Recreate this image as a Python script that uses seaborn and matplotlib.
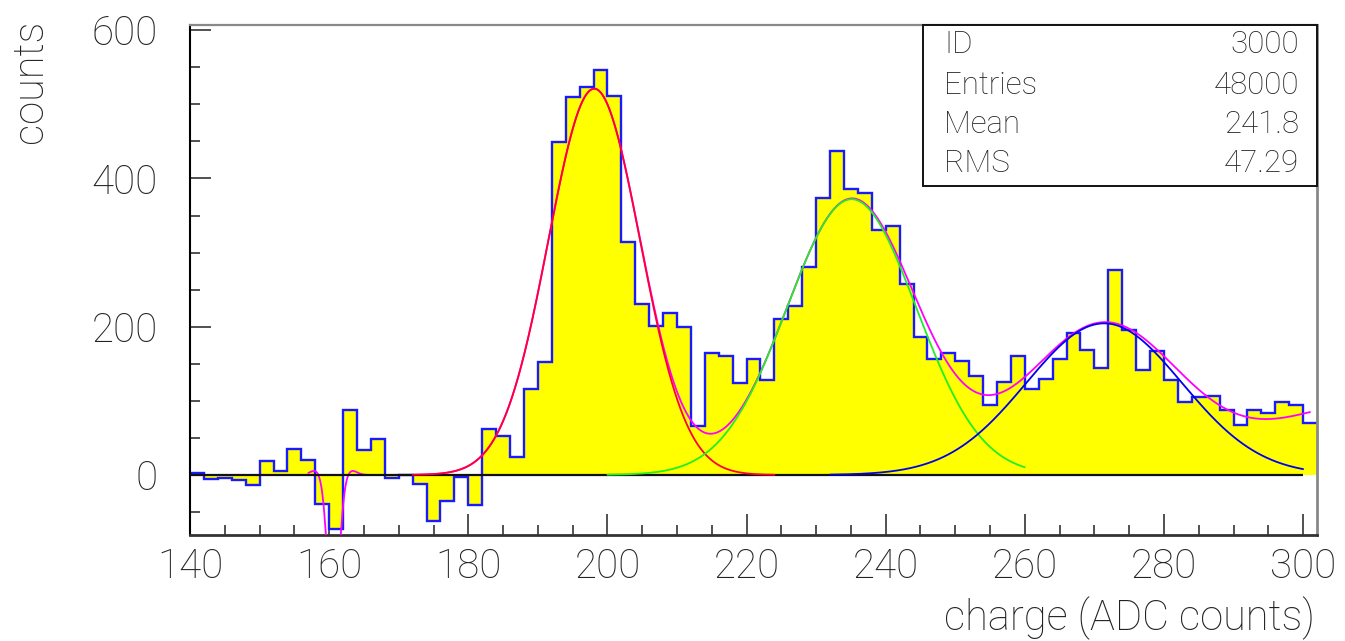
import numpy as np
import pandas as pd
import matplotlib
matplotlib.use("Agg")
import matplotlib.pyplot as plt
from matplotlib.patches import Rectangle
from matplotlib.ticker import MultipleLocator
import seaborn as sns

# ── DATA ──────────────────────────────────────────────────
bin_edges = list(range(140, 304, 2))        # 81 bins of width 2
counts = [2, -5, -4, -7, -14, 19, 5, 35, 20, -39,
          -73, 88, 33, 49, -4, 0, -12, -62, -35, -3,
          -41, 62, 53, 24, 116, 153, 449, 510, 524, 546,
          511, 314, 231, 201, 219, 200, 66, 164, 160, 124,
          157, 128, 211, 228, 281, 373, 437, 386, 381, 331,
          336, 258, 186, 157, 165, 154, 134, 95, 125, 161,
          116, 129, 157, 192, 169, 144, 276, 195, 141, 167,
          128, 98, 105, 107, 88, 68, 88, 84, 99, 95,
          70]

# gaussian fit components: amplitude, mean, sigma
red_fit = [521, 198.1, 6.6]
green_fit = [372, 235.1, 9.3]
blue_fit = [204.5, 271.4, 11.2]
tail_fit = [95, 309, 13]                    # 4th peak, only in the total
dip_fit = [-200, 160.6, 0.8]                # pedestal dip near 160
bump_fits = [[6, 158.0, 0.8], [6, 163.2, 0.8]]

red_range = [172, 224]
green_range = [200, 260]
blue_range = [232, 300]
total_range = [157, 301]

stats_names = ["ID", "Entries", "Mean", "RMS"]
stats_values = ["3000", "48000", "241.8", "47.29"]


def gauss(x, p):
    return p[0] * np.exp(-0.5 * ((x - p[1]) / p[2]) ** 2)


# ── STYLE ─────────────────────────────────────────────────
sns.set_theme(style="white")
plt.rcParams["font.family"] = ["Roboto", "DejaVu Sans"]
plt.rcParams["font.weight"] = "light"

fig = plt.figure(figsize=(13.45, 6.41), dpi=100)
ax = fig.add_axes([0.1413, 0.1654, 0.8379, 0.7956])

# ── HISTOGRAM ─────────────────────────────────────────────
centers = [e + 1 for e in bin_edges[:-1]]
df = pd.DataFrame({"charge": centers, "counts": counts})
sns.histplot(data=df, x="charge", weights="counts", bins=bin_edges,
             element="step", fill=True, color="#ffff00", alpha=1,
             linewidth=0, edgecolor="none", ax=ax, zorder=2)
ax.stairs(counts, bin_edges, baseline=None, color="#1a1aff", lw=1.7, zorder=2.5)

# ── FIT CURVES ────────────────────────────────────────────
xt = np.linspace(total_range[0], total_range[1], 1200)
yt = (gauss(xt, red_fit) + gauss(xt, green_fit) + gauss(xt, blue_fit)
      + gauss(xt, tail_fit) + gauss(xt, dip_fit)
      + sum(gauss(xt, b) for b in bump_fits))
sns.lineplot(x=xt, y=yt, color="#ff00ff", lw=1.3, ax=ax, zorder=3)

ax.hlines(0, bin_edges[0], bin_edges[-2], color="#111111", lw=1.6, zorder=3.5)

for fit, rng, col in [(red_fit, red_range, "#ff0033"),
                      (green_fit, green_range, "#22ee22"),
                      (blue_fit, blue_range, "#0000ee")]:
    xs = np.linspace(rng[0], rng[1], 600)
    sns.lineplot(x=xs, y=gauss(xs, fit), color=col, lw=1.3, ax=ax, zorder=4)

# ── AXES ──────────────────────────────────────────────────
ax.set_xlim(140, 302)
ax.set_ylim(-81, 607)
ax.set_xlabel("")
ax.set_ylabel("")
ax.xaxis.set_major_locator(MultipleLocator(20))
ax.xaxis.set_minor_locator(MultipleLocator(5))
ax.yaxis.set_major_locator(MultipleLocator(200))
ax.yaxis.set_minor_locator(MultipleLocator(50))
ax.tick_params(which="both", direction="in", color="#333333", width=1.2,
               top=False, right=False, bottom=True, left=True)
ax.tick_params(which="major", length=15)
ax.tick_params(which="minor", length=7.2)
ax.tick_params(axis="x", which="major", pad=9, labelsize=29, labelcolor="#222222")
ax.tick_params(axis="y", which="major", pad=23, labelsize=29, labelcolor="#222222")

ax.spines["left"].set_color("#000000")
ax.spines["left"].set_linewidth(1.5)
ax.spines["bottom"].set_color("#333333")
ax.spines["bottom"].set_linewidth(2.0)
ax.spines["top"].set_color("#888888")
ax.spines["top"].set_linewidth(1.6)
ax.spines["right"].set_color("#888888")
ax.spines["right"].set_linewidth(2.0)

ax.text(-0.142, 1.01, "counts", rotation=90, ha="center", va="top",
        fontsize=30, color="#222222", transform=ax.transAxes)
ax.text(0.998, -0.163, "charge (ADC counts)", ha="right", va="center",
        fontsize=30, color="#222222", transform=ax.transAxes)

# ── STATS BOX ─────────────────────────────────────────────
ax.add_patch(Rectangle((0.650, 0.684), 0.350, 0.316, transform=ax.transAxes,
                       facecolor="white", edgecolor="#111111", lw=1.4,
                       zorder=10, clip_on=False))
row_y = [0.961, 0.882, 0.804, 0.729]
for name, val, yy in zip(stats_names, stats_values, row_y):
    ax.text(0.669, yy, name, ha="left", va="center", fontsize=22.5,
            color="#222222", transform=ax.transAxes, zorder=11)
    ax.text(0.984, yy, val, ha="right", va="center", fontsize=22.5,
            color="#222222", transform=ax.transAxes, zorder=11)

fig.savefig("out.png", dpi=100)
